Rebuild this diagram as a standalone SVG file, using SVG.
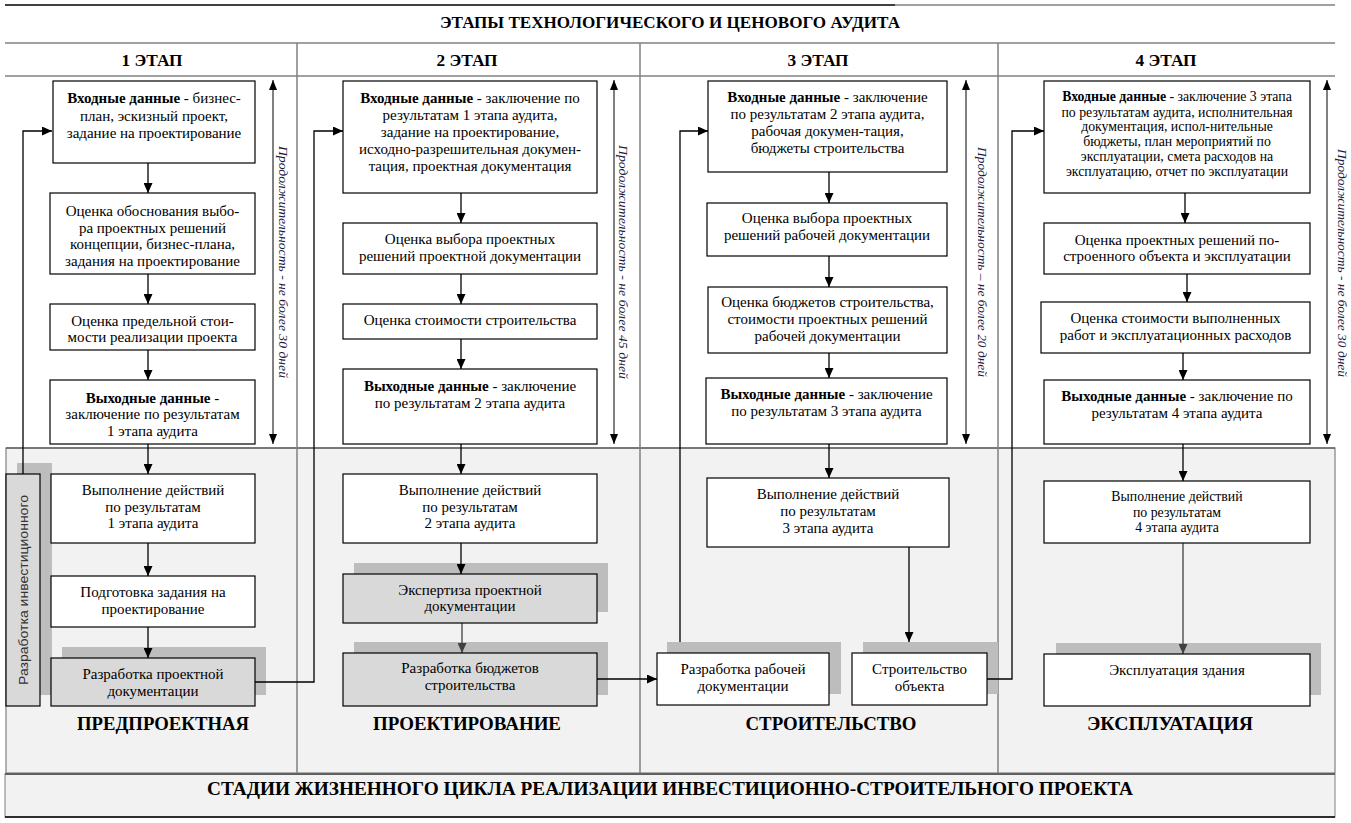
<svg xmlns="http://www.w3.org/2000/svg" width="1351" height="823" viewBox="0 0 1351 823">
<defs>
<marker id="arr" viewBox="0 0 10 9" refX="10" refY="4.5" markerWidth="10" markerHeight="9" orient="auto" markerUnits="userSpaceOnUse"><path d="M0,0 L10,4.5 L0,9 z" fill="#000"/></marker>
<marker id="arrg" viewBox="0 0 10 9" refX="10" refY="4.5" markerWidth="10" markerHeight="9" orient="auto" markerUnits="userSpaceOnUse"><path d="M0,0 L10,4.5 L0,9 z" fill="#404040"/></marker>
<marker id="darr" viewBox="0 0 10 8" refX="10" refY="4" markerWidth="10" markerHeight="8" orient="auto-start-reverse" markerUnits="userSpaceOnUse"><path d="M0,0 L10,4 L0,8 z" fill="#000"/></marker>
<style>
.box{fill:#fff;stroke:#000;stroke-width:1.2}
.gbox{fill:#d9d9d9;stroke:#000;stroke-width:1.2}
.sh{fill:#bdbdbd}
.t{font-family:"Liberation Serif","Times New Roman",serif;font-size:15px;fill:#000;text-anchor:middle}
.b{font-weight:bold}
.s{font-size:13.8px}
.hd{font-family:"Liberation Serif","Times New Roman",serif;font-weight:bold;font-size:16px;fill:#000;text-anchor:middle}
.st{font-family:"Liberation Serif","Times New Roman",serif;font-weight:bold;font-size:18px;fill:#000;text-anchor:middle}
.dur{font-family:"Liberation Serif","Times New Roman",serif;font-style:italic;font-size:13px;fill:#1a1a40;text-anchor:middle}
.cn{fill:none;stroke:#000;stroke-width:1.3}
.cg{fill:none;stroke:#404040;stroke-width:1.3}
.dl{fill:none;stroke:#000;stroke-width:1}
.grid{stroke:#808080;stroke-width:1.5;fill:none}
</style>
</defs>

<g id="frame">
<rect x="6" y="448" width="1329" height="325" fill="#f2f2f2" stroke="#808080" stroke-width="1.2"/>
<line x1="6" y1="448" x2="1335" y2="448" stroke="#404040" stroke-width="1.2"/>
<rect x="5" y="774" width="1330" height="43" fill="#f2f2f2" stroke="#808080" stroke-width="1"/>
<line x1="5" y1="774" x2="1335" y2="774" stroke="#606060" stroke-width="2"/>
<line x1="5" y1="817" x2="1335" y2="817" stroke="#000" stroke-width="1.5"/>
<line x1="5" y1="5" x2="895" y2="5" stroke="#000" stroke-width="1.5"/>
<line x1="895" y1="5" x2="1335" y2="5" stroke="#808080" stroke-width="1.5"/>
<line class="grid" x1="5" y1="43" x2="1335" y2="43" stroke-width="2"/>
<line class="grid" x1="5" y1="76" x2="1335" y2="76" stroke-width="2"/>
<line class="grid" x1="297" y1="43" x2="297" y2="773"/>
<line class="grid" x1="640" y1="43" x2="640" y2="773"/>
<line class="grid" x1="998" y1="43" x2="998" y2="773"/>
<text class="hd" x="670" y="28" textLength="460" lengthAdjust="spacingAndGlyphs">ЭТАПЫ ТЕХНОЛОГИЧЕСКОГО И ЦЕНОВОГО АУДИТА</text>
<text class="hd" x="152" y="66" textLength="61" lengthAdjust="spacingAndGlyphs">1 ЭТАП</text>
<text class="hd" x="467" y="66" textLength="61" lengthAdjust="spacingAndGlyphs">2 ЭТАП</text>
<text class="hd" x="818" y="66" textLength="61" lengthAdjust="spacingAndGlyphs">3 ЭТАП</text>
<text class="hd" x="1166" y="66" textLength="61" lengthAdjust="spacingAndGlyphs">4 ЭТАП</text>
<text class="st" x="163" y="730" textLength="172" lengthAdjust="spacingAndGlyphs">ПРЕДПРОЕКТНАЯ</text>
<text class="st" x="467" y="730" textLength="188" lengthAdjust="spacingAndGlyphs">ПРОЕКТИРОВАНИЕ</text>
<text class="st" x="831" y="730" textLength="171" lengthAdjust="spacingAndGlyphs">СТРОИТЕЛЬСТВО</text>
<text class="st" x="1170" y="730" textLength="166" lengthAdjust="spacingAndGlyphs">ЭКСПЛУАТАЦИЯ</text>
<text class="st" x="670" y="795" textLength="926" lengthAdjust="spacingAndGlyphs">СТАДИИ ЖИЗНЕННОГО ЦИКЛА РЕАЛИЗАЦИИ ИНВЕСТИЦИОННО-СТРОИТЕЛЬНОГО ПРОЕКТА</text>
</g>

<g id="durations">
<line class="dl" x1="273" y1="80" x2="273" y2="444" marker-start="url(#darr)" marker-end="url(#darr)"/>
<line class="dl" x1="614" y1="80" x2="614" y2="444" marker-start="url(#darr)" marker-end="url(#darr)"/>
<line class="dl" x1="966" y1="80" x2="966" y2="444" marker-start="url(#darr)" marker-end="url(#darr)"/>
<line class="dl" x1="1327" y1="80" x2="1327" y2="444" marker-start="url(#darr)" marker-end="url(#darr)"/>
<text class="dur" transform="translate(279,262) rotate(90)" textLength="232" lengthAdjust="spacingAndGlyphs">Продолжительность  -  не более 30 дней</text>
<text class="dur" transform="translate(619,262) rotate(90)" textLength="234" lengthAdjust="spacingAndGlyphs">Продолжительность - не более 45 дней</text>
<text class="dur" transform="translate(978,262) rotate(90)" textLength="230" lengthAdjust="spacingAndGlyphs">Продолжительность – не более 20 дней</text>
<text class="dur" transform="translate(1338,263) rotate(90)" textLength="228" lengthAdjust="spacingAndGlyphs">Продолжительность - не более 30 дней</text>
</g>

<g id="shadows">
<rect class="sh" x="17" y="463" width="35" height="232"/>
<rect class="sh" x="62" y="647" width="204" height="48"/>
<rect class="sh" x="354" y="563" width="254" height="49"/>
<rect class="sh" x="354" y="642" width="254" height="53"/>
<rect class="sh" x="667" y="642" width="174" height="52"/>
<rect class="sh" x="863" y="642" width="135" height="52"/>
<rect class="sh" x="1056" y="643" width="265" height="52"/>
</g>

<g id="connectors">
<line class="cn" x1="148" y1="163" x2="148" y2="193" marker-end="url(#arr)"/>
<line class="cn" x1="148" y1="274" x2="148" y2="304" marker-end="url(#arr)"/>
<line class="cn" x1="148" y1="350" x2="148" y2="380" marker-end="url(#arr)"/>
<line class="cn" x1="148" y1="444" x2="148" y2="474" marker-end="url(#arr)"/>
<line class="cn" x1="148" y1="543" x2="148" y2="576" marker-end="url(#arr)"/>
<line class="cn" x1="148" y1="627" x2="148" y2="658" marker-end="url(#arr)"/>
<path class="cn" d="M23,474 V131 H52" marker-end="url(#arr)"/>
<path class="cn" d="M255,682 H314 V131 H343" marker-end="url(#arr)"/>
<line class="cn" x1="461" y1="193" x2="461" y2="223" marker-end="url(#arr)"/>
<line class="cn" x1="461" y1="274" x2="461" y2="304" marker-end="url(#arr)"/>
<line class="cn" x1="461" y1="339" x2="461" y2="369" marker-end="url(#arr)"/>
<line class="cn" x1="461" y1="444" x2="461" y2="474" marker-end="url(#arr)"/>
<line class="cn" x1="461" y1="543" x2="461" y2="574" marker-end="url(#arr)"/>
<line class="cg" x1="462" y1="623" x2="462" y2="653" marker-end="url(#arrg)"/>
<line class="cn" x1="597" y1="679" x2="657" y2="679" marker-end="url(#arr)"/>
<path class="cn" d="M680,642 V131 H708" marker-end="url(#arr)"/>
<line class="cn" x1="829" y1="172" x2="829" y2="203" marker-end="url(#arr)"/>
<line class="cn" x1="829" y1="256" x2="829" y2="287" marker-end="url(#arr)"/>
<line class="cn" x1="829" y1="353" x2="829" y2="378" marker-end="url(#arr)"/>
<line class="cn" x1="829" y1="444" x2="829" y2="478" marker-end="url(#arr)"/>
<line class="cn" x1="909" y1="547" x2="909" y2="642" marker-end="url(#arr)"/>
<path class="cn" d="M987,679 H1012 V131 H1044" marker-end="url(#arr)"/>
<line class="cn" x1="1185" y1="193" x2="1185" y2="223" marker-end="url(#arr)"/>
<line class="cn" x1="1187" y1="274" x2="1187" y2="302" marker-end="url(#arr)"/>
<line class="cn" x1="1183" y1="353" x2="1183" y2="380" marker-end="url(#arr)"/>
<line class="cn" x1="1183" y1="444" x2="1183" y2="481" marker-end="url(#arr)"/>
<line class="cg" x1="1183" y1="543" x2="1183" y2="654" marker-end="url(#arrg)"/>
</g>

<g id="n1a"><rect class="box" x="53" y="81" width="202" height="82"/>
<text class="t" x="154" y="103"><tspan class="b">Входные данные</tspan> - бизнес-</text>
<text class="t" x="154" y="120.5">план, эскизный проект,</text>
<text class="t" x="154" y="138">задание на проектирование</text></g>
<g id="n1b"><rect class="box" x="50" y="193" width="205" height="81"/>
<text class="t" x="152.5" y="216">Оценка обоснования выбо-</text>
<text class="t" x="152.5" y="232.5">ра проектных решений</text>
<text class="t" x="152.5" y="249">концепции, бизнес-плана,</text>
<text class="t" x="152.5" y="265.5">задания на проектирование</text></g>
<g id="n1c"><rect class="box" x="50" y="304" width="205" height="46"/>
<text class="t" x="152.5" y="326">Оценка предельной стои-</text>
<text class="t" x="152.5" y="342">мости реализации проекта</text></g>
<g id="n1d"><rect class="box" x="50" y="380" width="205" height="64"/>
<text class="t" x="152.5" y="403"><tspan class="b">Выходные данные</tspan> -</text>
<text class="t" x="152.5" y="419">заключение по результатам</text>
<text class="t" x="152.5" y="436">1 этапа аудита</text></g>
<g id="n1e"><rect class="box" x="51" y="474" width="204" height="69"/>
<text class="t" x="153" y="495">Выполнение действий</text>
<text class="t" x="153" y="512">по результатам</text>
<text class="t" x="153" y="528">1 этапа аудита</text></g>
<g id="n1f"><rect class="box" x="51" y="576" width="204" height="51"/>
<text class="t" x="153" y="597">Подготовка задания на</text>
<text class="t" x="153" y="614">проектирование</text></g>
<g id="n1g"><rect class="gbox" x="51" y="658" width="204" height="48"/>
<text class="t" x="153" y="679">Разработка проектной</text>
<text class="t" x="153" y="696">документации</text></g>
<g id="inv"><rect class="gbox" x="6" y="474" width="34" height="232"/>
<text transform="translate(27.5,590) rotate(-90)" style="font-family:'Liberation Sans',Arial,sans-serif;font-size:13.5px;fill:#333;text-anchor:middle" textLength="190" lengthAdjust="spacingAndGlyphs">Разработка инвестиционного</text></g>

<g id="n2a"><rect class="box" x="343" y="81" width="254" height="112"/>
<text class="t" x="470" y="103"><tspan class="b">Входные данные</tspan>  - заключение по</text>
<text class="t" x="470" y="120">результатам 1 этапа аудита,</text>
<text class="t" x="470" y="137">задание на проектирование,</text>
<text class="t" x="470" y="154">исходно-разрешительная докумен-</text>
<text class="t" x="470" y="171">тация, проектная документация</text></g>
<g id="n2b"><rect class="box" x="343" y="223" width="254" height="51"/>
<text class="t" x="470" y="244">Оценка выбора проектных</text>
<text class="t" x="470" y="261">решений проектной документации</text></g>
<g id="n2c"><rect class="box" x="343" y="304" width="254" height="35"/>
<text class="t" x="470" y="325">Оценка стоимости строительства</text></g>
<g id="n2d"><rect class="box" x="343" y="369" width="254" height="75"/>
<text class="t" x="470" y="391"><tspan class="b">Выходные данные</tspan> - заключение</text>
<text class="t" x="470" y="408">по результатам 2 этапа аудита</text></g>
<g id="n2e"><rect class="box" x="343" y="474" width="254" height="69"/>
<text class="t" x="470" y="495">Выполнение действий</text>
<text class="t" x="470" y="512">по результатам</text>
<text class="t" x="470" y="528">2 этапа аудита</text></g>
<g id="n2f"><rect class="gbox" x="343" y="574" width="254" height="49"/>
<text class="t" x="470" y="595">Экспертиза проектной</text>
<text class="t" x="470" y="611">документации</text></g>
<g id="n2g"><rect class="gbox" x="343" y="653" width="254" height="53"/>
<text class="t" x="470" y="673">Разработка бюджетов</text>
<text class="t" x="470" y="690">строительства</text></g>

<g id="n3a"><rect class="box" x="708" y="81" width="239" height="91"/>
<text class="t" x="827.5" y="101.5"><tspan class="b">Входные данные</tspan> - заключение</text>
<text class="t" x="827.5" y="118.5">по результатам 2 этапа аудита,</text>
<text class="t" x="827.5" y="135.5">рабочая докумен-тация,</text>
<text class="t" x="827.5" y="152.5">бюджеты строительства</text></g>
<g id="n3b"><rect class="box" x="707" y="203" width="240" height="53"/>
<text class="t" x="827" y="222.5">Оценка выбора проектных</text>
<text class="t" x="827" y="240">решений рабочей документации</text></g>
<g id="n3c"><rect class="box" x="708" y="287" width="239" height="66"/>
<text class="t" x="827.5" y="306.5">Оценка бюджетов строительства,</text>
<text class="t" x="827.5" y="323.5">стоимости проектных решений</text>
<text class="t" x="827.5" y="341">рабочей документации</text></g>
<g id="n3d"><rect class="box" x="706" y="378" width="241" height="66"/>
<text class="t" x="826.5" y="398.5"><tspan class="b">Выходные данные</tspan> - заключение</text>
<text class="t" x="826.5" y="416">по результатам 3 этапа аудита</text></g>
<g id="n3e"><rect class="box" x="707" y="478" width="242" height="69"/>
<text class="t" x="828" y="498.5">Выполнение действий</text>
<text class="t" x="828" y="515.5">по результатам</text>
<text class="t" x="828" y="532.5">3 этапа аудита</text></g>
<g id="n3f"><rect class="box" x="657" y="653" width="172" height="52"/>
<text class="t" x="743" y="673.5">Разработка рабочей</text>
<text class="t" x="743" y="691">документации</text></g>
<g id="n3g"><rect class="box" x="852" y="653" width="135" height="52"/>
<text class="t" x="919.5" y="673.5">Строительство</text>
<text class="t" x="919.5" y="691">объекта</text></g>

<g id="n4a"><rect class="box" x="1044" y="81" width="266" height="112"/>
<text class="t s" x="1177" y="101.3"><tspan class="b">Входные данные</tspan>  - заключение 3 этапа</text>
<text class="t s" x="1177" y="116.7">по результатам аудита, исполнительная</text>
<text class="t s" x="1177" y="131.3">документация, испол-нительные</text>
<text class="t s" x="1177" y="145.7">бюджеты, план мероприятий по</text>
<text class="t s" x="1177" y="161.3">эксплуатации, смета расходов на</text>
<text class="t s" x="1177" y="175.7">эксплуатацию, отчет по эксплуатации</text></g>
<g id="n4b"><rect class="box" x="1044" y="223" width="266" height="51"/>
<text class="t" x="1177" y="244.5">Оценка проектных решений по-</text>
<text class="t" x="1177" y="261">строенного объекта и эксплуатации</text></g>
<g id="n4c"><rect class="box" x="1041" y="302" width="269" height="51"/>
<text class="t" x="1175.5" y="322.5">Оценка стоимости выполненных</text>
<text class="t" x="1175.5" y="339.5">работ и эксплуатационных расходов</text></g>
<g id="n4d"><rect class="box" x="1044" y="380" width="266" height="64"/>
<text class="t" x="1177" y="401"><tspan class="b">Выходные данные</tspan> - заключение по</text>
<text class="t" x="1177" y="418">результатам 4 этапа аудита</text></g>
<g id="n4e"><rect class="box" x="1044" y="481" width="266" height="62"/>
<text class="t s" x="1177" y="501">Выполнение действий</text>
<text class="t s" x="1177" y="516.5">по результатам</text>
<text class="t s" x="1177" y="531.5">4 этапа аудита</text></g>
<g id="n4f"><rect class="box" x="1044" y="654" width="266" height="52"/>
<text class="t" x="1177" y="675">Эксплуатация здания</text></g>
</svg>
